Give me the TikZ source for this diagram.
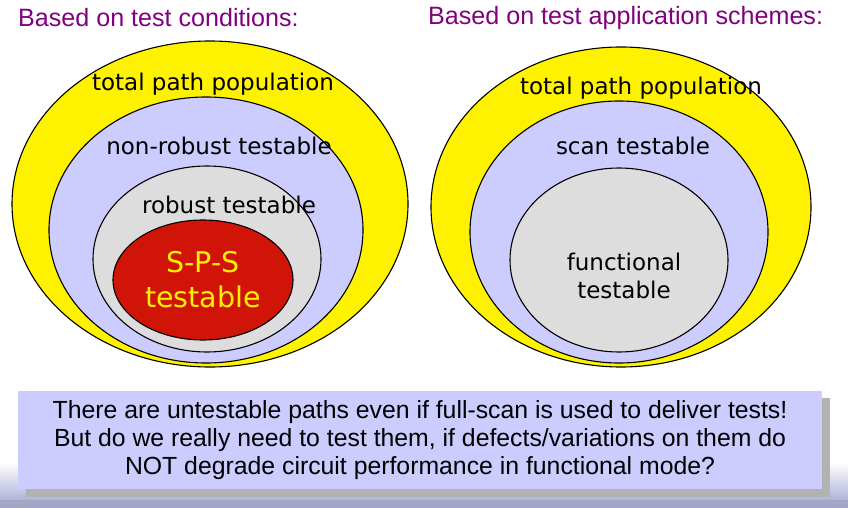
\documentclass[tikz,border=0pt]{standalone}
\usepackage{fontspec}
\setmainfont{Liberation Sans}
\newfontfamily\comicfont{DejaVu Sans}
\usetikzlibrary{shapes.geometric}
\definecolor{lavender}{RGB}{204,204,255}
\definecolor{lightgrey}{RGB}{221,221,221}
\definecolor{spsred}{RGB}{208,20,8}
\definecolor{titlepurple}{RGB}{128,0,128}
\definecolor{shadowgrey}{RGB}{178,178,178}
\definecolor{slideblue}{RGB}{176,180,216}

\begin{document}
\begin{tikzpicture}[x=1pt,y=-1pt,
    set/.style={ellipse,draw=black,line width=1.1pt,inner sep=0pt},
    setlabel/.style={font=\comicfont\fontsize{23}{27}\selectfont,inner sep=0pt},
    heading/.style={font=\fontsize{25.1}{29}\selectfont,text=titlepurple,inner sep=0pt,anchor=west}
  ]
  \useasboundingbox (0,0) rectangle (848,508);
  % slide background
  \shade[top color=white,bottom color=slideblue] (0,462) rectangle (848,500);
  \fill[slideblue!90!black!95] (0,500) rectangle (848,508);

  \node[heading] (ht) at (18,18) {Based on test conditions:};
  \node[heading] (ha) at (428,18) {Based on test application schemes:};

  % left: test conditions
  \node[set,fill=yellow,minimum width=396pt,minimum height=326pt] (total1) at (210,204) {};
  \node[set,fill=lavender,minimum width=314pt,minimum height=266pt] (nonrob) at (206,230) {};
  \node[set,fill=lightgrey,minimum width=228pt,minimum height=186pt] (rob) at (207,259) {};
  \node[set,fill=spsred,minimum width=180pt,minimum height=120pt] (sps) at (203,280) {};
  \node[setlabel] (ltotal1) at (213,84) {total path population};
  \node[setlabel] (lnonrob) at (219,146) {non-robust testable};
  \node[setlabel] (lrob) at (229,205) {robust testable};
  \node[setlabel,font=\comicfont\fontsize{28.5}{35}\selectfont,text=yellow,align=center] (lsps) at (203,280) {S-P-S\\testable};

  % right: test application schemes
  \node[set,fill=yellow,minimum width=380pt,minimum height=320pt] (total2) at (621,207) {};
  \node[set,fill=lavender,minimum width=298pt,minimum height=262pt] (scan) at (619,232) {};
  \node[set,fill=lightgrey,minimum width=218pt,minimum height=184pt] (func) at (619,260) {};
  \node[setlabel] (ltotal2) at (641,88) {total path population};
  \node[setlabel] (lscan) at (633,146) {scan testable};
  \node[setlabel,align=center,font=\comicfont\fontsize{23}{28}\selectfont] (lfunc) at (624,276) {functional\\testable};

  % remark
  \fill[shadowgrey] (26,398) rectangle (830,497);
  \node[fill=lavender,minimum width=804pt,minimum height=98pt,inner sep=0pt,
        align=center,font=\fontsize{24.8}{28}\selectfont] (remark) at (420,440)
    {There are untestable paths even if full-scan is used to deliver tests!\\
     But do we really need to test them, if defects/variations on them do\\
     NOT degrade circuit performance in functional mode?};
\end{tikzpicture}
\end{document}
